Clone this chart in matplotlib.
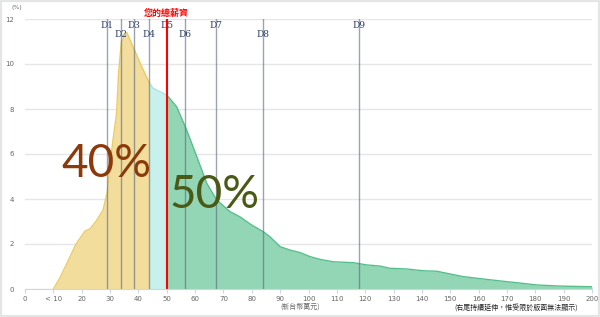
import numpy as np
import matplotlib.pyplot as plt
from matplotlib.patches import Rectangle

# salary distribution (x in 10k TWD, y in %)
sal_x = [10, 12.3, 15, 18, 21.2, 22.9, 25, 27.5, 29, 30, 31, 32.3, 33, 34, 35.9,
         38.1, 40.6, 43.7, 45.1, 47.6, 50, 53.5, 57, 60.6, 64.1, 67.6, 72.3,
         75.8, 80, 84, 86.4, 90, 93.5, 97, 100.5, 104, 108.7, 115.8, 120.5,
         125.2, 128.7, 134.6, 140.5, 145.2, 149.9, 154.6, 160.5, 167.5, 173.4,
         180.5, 188.7, 200]
sal_y = [0, 0.49, 1.2, 2.0, 2.58, 2.67, 3.0, 3.5, 4.3, 5.5, 6.6, 7.8, 9.6, 11.0, 11.4,
         10.77, 10.04, 9.2, 8.93, 8.77, 8.62, 8.1, 7.07, 5.88, 4.7, 3.96, 3.44,
         3.21, 2.84, 2.55, 2.32, 1.88, 1.73, 1.62, 1.44, 1.32, 1.21, 1.17, 1.07,
         1.02, 0.92, 0.89, 0.81, 0.79, 0.67, 0.55, 0.46, 0.36, 0.28,
         0.18, 0.13, 0.1]

deciles = [28.9, 33.9, 38.4, 43.7, 50, 56.4, 67.4, 83.9, 117.8]
dec_names = ['D1', 'D2', 'D3', 'D4', 'D5', 'D6', 'D7', 'D8', 'D9']
your_salary = 50

xticks = [0, 10, 20, 30, 40, 50, 60, 70, 80, 90, 100, 110, 120, 130, 140,
          150, 160, 170, 180, 190, 200]
xlabels = ['0', '< 10'] + [str(v) for v in xticks[2:]]
yticks = [0, 2, 4, 6, 8, 10, 12]

fig = plt.figure(figsize=(6, 3.17), dpi=100)
ax = fig.add_axes([25/600, 1 - 289/317, 567/600, 270/317])
ax.set_xlim(0, 200)
ax.set_ylim(0, 12)

# area in three colour bands, each clipped to its range
bands = [(0, deciles[3], '#f2dd9c', '#eccb62'),
         (deciles[3], your_salary, '#c8f0ec', '#a8e6df'),
         (your_salary, 200, '#93d6b5', '#58bf8c')]
for lo, hi, fc, ec in bands:
    clip = Rectangle((lo, -1), hi - lo, 20, transform=ax.transData)
    f = ax.fill_between(sal_x, sal_y, 0, color=fc, lw=0, zorder=2)
    f.set_clip_path(clip)
    ln, = ax.plot(sal_x, sal_y, color=ec, lw=1, zorder=3)
    ln.set_clip_path(clip)

for i, d in enumerate(deciles):
    if dec_names[i] != 'D5':
        ax.axvline(d, color=(0.35, 0.4, 0.5, 0.6), lw=1, zorder=4)
    ty = 11.72 if i % 2 == 0 else 11.3
    ax.text(d, ty, dec_names[i], ha='center', va='center', fontsize=6.5,
            family='DejaVu Serif', color='#2b3f66', zorder=5)

ax.axvline(your_salary, color='#ff0000', lw=1.5, zorder=5)
ax.text(your_salary, 12.25, '您的總薪資', ha='center', va='center', fontsize=6.5,
        family=['Noto Sans CJK TC', 'DejaVu Sans'], color='#ff0000',
        fontweight='bold', clip_on=False)

ax.text(28.6, 5.55, '40%', ha='center', va='center', fontsize=33,
        color='#8b3a0a', family='Lato', zorder=6)
ax.text(66.7, 4.2, '50%', ha='center', va='center', fontsize=33,
        color='#4a5a16', family='Lato', zorder=6)

ax.set_yticks(yticks)
ax.set_yticklabels([str(v) for v in yticks], fontsize=5, color='#666666')
ax.set_xticks(xticks)
ax.set_xticklabels(xlabels, fontsize=5, color='#666666')
ax.tick_params(axis='y', length=0, pad=8)
ax.tick_params(axis='x', length=3, color='#ccd6eb', pad=2)
ax.grid(axis='y', color='#e6e6e6', lw=1, zorder=0)
for s in ['top', 'right', 'left']:
    ax.spines[s].set_visible(False)
ax.spines['bottom'].set_color('#ccd6eb')
ax.spines['bottom'].set_zorder(6)

fig.text(17/600, 1 - 8/317, '(%)', fontsize=4.5, color='#666666', ha='center', va='center')
fig.text(300/600, 1 - 307/317, '(新台幣萬元)', fontsize=5,
         family=['Noto Sans CJK TC', 'DejaVu Sans'], color='#666666',
         ha='center', va='center')
fig.text(578/600, 1 - 308/317, '(右尾持續延伸，惟受限於版面無法顯示)', fontsize=5,
         family=['Noto Sans CJK TC', 'DejaVu Sans'], color='#222222',
         ha='right', va='center')

# light frame around the chart
fig.patches.append(Rectangle((0, 0), 1, 1, transform=fig.transFigure,
                             fill=False, ec='#e4e6e6', lw=3))

fig.savefig('out.png', dpi=100)
